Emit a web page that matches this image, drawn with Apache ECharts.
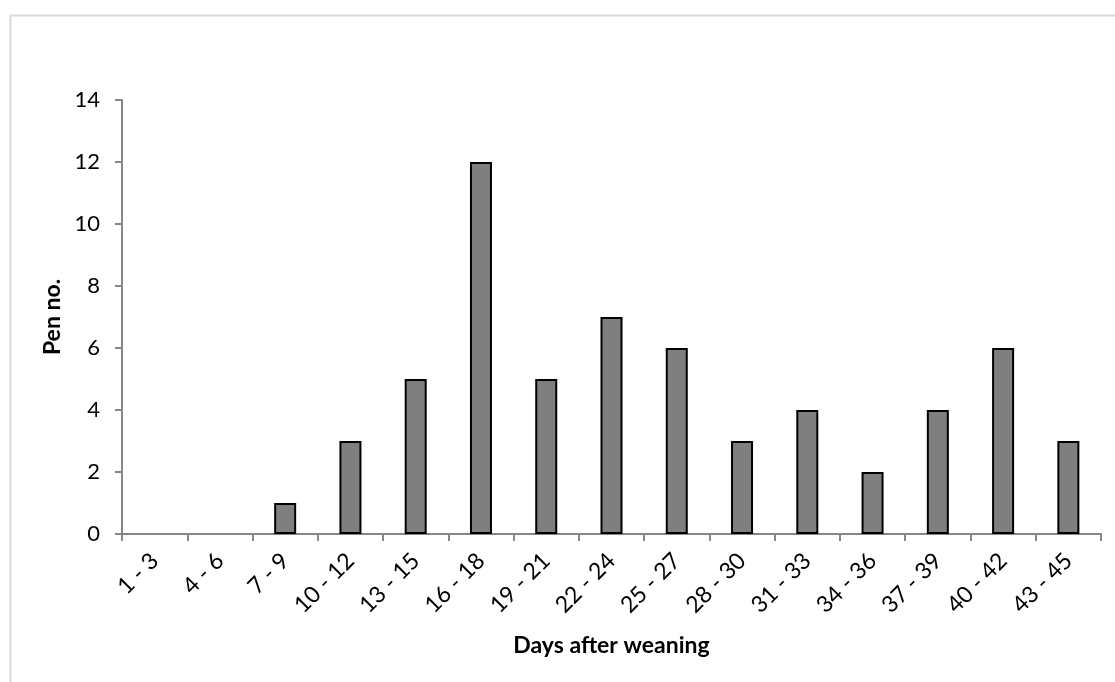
<!DOCTYPE html>
<html>
<head>
<meta charset="utf-8">
<script src="https://cdn.jsdelivr.net/npm/echarts@6/dist/echarts.min.js"></script>
<style>
html,body{margin:0;padding:0;background:#fff;}
#chart{width:1115px;height:682px;}
</style>
</head>
<body>
<div id="chart"></div>
<script>
const categories = ['1 - 3','4 - 6','7 - 9','10 - 12','13 - 15','16 - 18','19 - 21','22 - 24','25 - 27','28 - 30','31 - 33','34 - 36','37 - 39','40 - 42','43 - 45'];
const penNo = [0,0,1,3,5,12,5,7,6,3,4,2,4,6,3];
const yTicks = {min:0, max:14, interval:2};
const xTitle = 'Days after weaning';
const yTitle = 'Pen no.';

const FONT = 'Lato, "Open Sans", sans-serif';
const chart = echarts.init(document.getElementById('chart'), null, {renderer:'canvas'});
chart.setOption({
  animation:false,
  backgroundColor:'#fff',
  graphic:[{
    type:'rect', left:8, top:13,
    shape:{width:1200, height:800},
    style:{fill:'none', stroke:'#d9d9d9', lineWidth:2}
  }],
  grid:{left:122, right:14, top:100, bottom:148, containLabel:false},
  xAxis:{
    type:'category', data:categories, boundaryGap:true,
    name:xTitle, nameLocation:'middle', nameGap:100,
    nameTextStyle:{fontFamily:FONT, fontWeight:'bold', fontSize:23, color:'#000'},
    axisLine:{lineStyle:{color:'#868686', width:2}},
    axisTick:{show:true, alignWithLabel:false, length:7, lineStyle:{color:'#868686', width:2}},
    axisLabel:{rotate:45, margin:23, fontFamily:FONT, fontSize:23, color:'#000', interval:0}
  },
  yAxis:{
    type:'value', min:yTicks.min, max:yTicks.max, interval:yTicks.interval,
    name:yTitle, nameLocation:'middle', nameGap:56,
    nameTextStyle:{fontFamily:FONT, fontWeight:'bold', fontSize:23, color:'#000'},
    axisLine:{show:true, lineStyle:{color:'#868686', width:2}},
    axisTick:{show:true, length:7, lineStyle:{color:'#868686', width:2}},
    splitLine:{show:false},
    axisLabel:{margin:22, fontFamily:FONT, fontSize:22, color:'#000'}
  },
  series:[{
    type:'bar', barWidth:22,
    data:penNo.map(v => v === 0 ? {value:v, itemStyle:{borderWidth:0}} : v),
    itemStyle:{color:'#7f7f7f', borderColor:'#000', borderWidth:2}
  }]
});
</script>
</body>
</html>
